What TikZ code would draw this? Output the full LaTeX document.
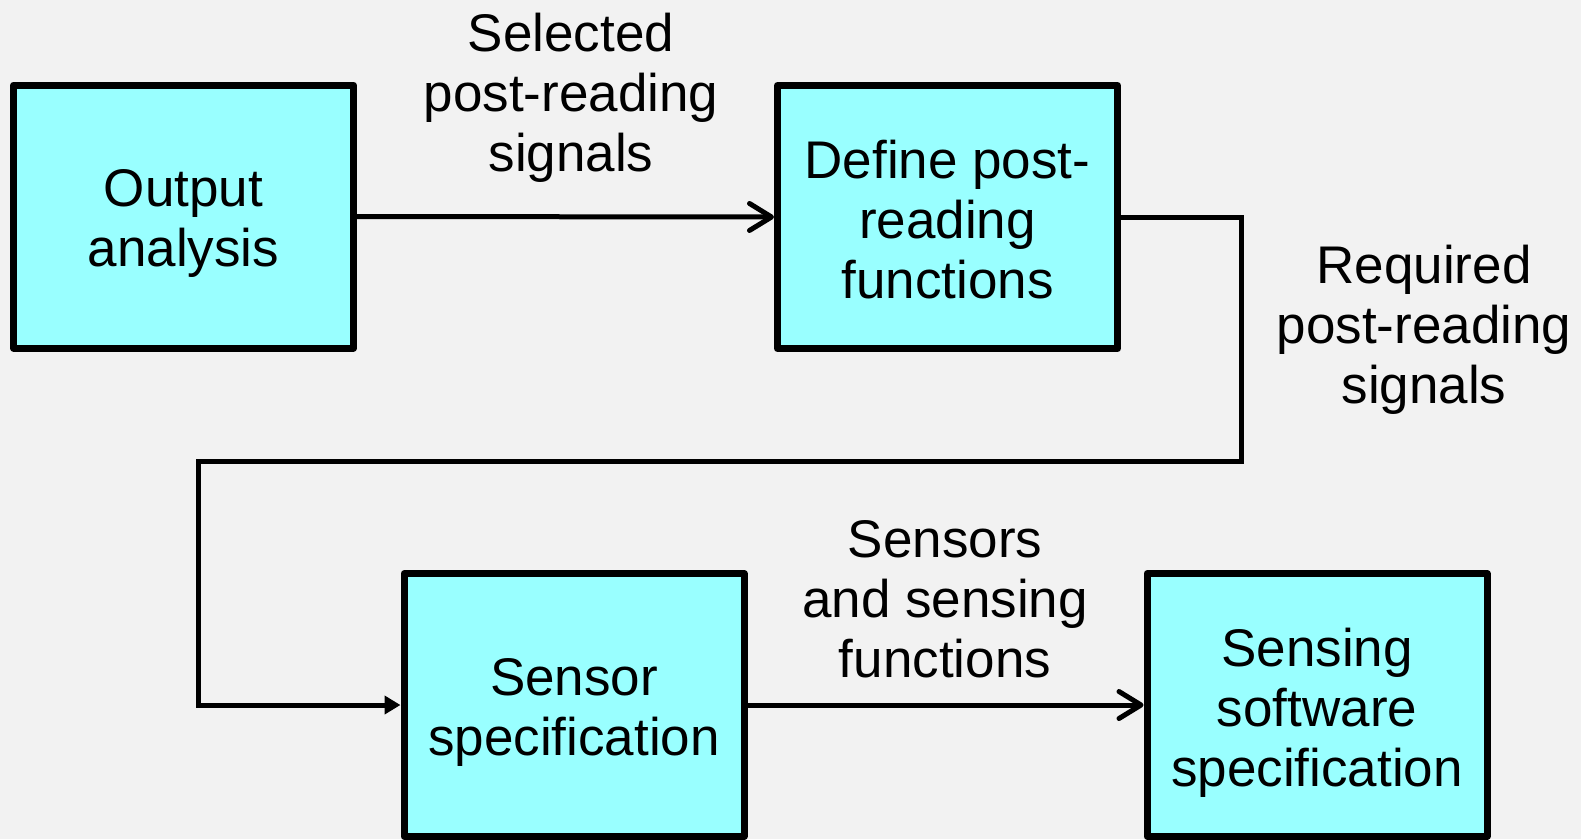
\documentclass[tikz,border=0pt]{standalone}
\usepackage{fontspec}
\setmainfont{Liberation Sans}
\usetikzlibrary{arrows.meta}
\definecolor{bgpaper}{HTML}{F2F2F2}
\definecolor{boxcyan}{HTML}{99FFFF}
\tikzset{
  block/.style={draw=black, fill=boxcyan, line width=7pt, line join=round,
    minimum width=340pt, minimum height=263pt, inner sep=0pt},
  lbl/.style={align=center, inner sep=0pt, font=\fontsize{53pt}{60pt}\selectfont},
  link/.style={line width=5pt, line join=miter},
  barb/.style={-{Straight Barb[length=22pt,width=27pt,line cap=round,round]}},
  tri/.style={-{Triangle[length=16pt,width=18pt]}}
}
\begin{document}
\begin{tikzpicture}[x=1pt,y=-1pt]
  \fill[bgpaper] (0,0) rectangle (1581,839);
  \useasboundingbox (0,0) rectangle (1581,839);

  \node[block, label={[lbl,yshift=-7pt]center:Output\\analysis}] (out) at (183.5,216.5) {};
  \node[block, label={[lbl,yshift=-3pt]center:Define post-\\reading\\functions}] (def) at (947.5,217) {};
  \node[block, label={[lbl,yshift=-7pt]center:Sensor\\specification}] (sen) at (574,705) {};
  \node[block, label={[lbl,yshift=-8pt]center:Sensing\\software\\specification}] (sw) at (1317,705) {};

  \node[lbl] (l1) at (571,98)   {Selected\\post-reading\\signals};
  \node[lbl] (l2) at (1424,330) {Required\\post-reading\\signals};
  \node[lbl] (l3) at (945,599)  {Sensors\\and sensing\\functions};

  \coordinate (cr) at (1241,461);
  \coordinate (cl) at (198,461);

  \draw[link,barb] (out.east) -- (def.west);
  \draw[link,tri] (def.east) -| (cr) -- (cl) |- (sen.west);
  \draw[link,barb] (sen.east) -- (sw.west);
\end{tikzpicture}
\end{document}
